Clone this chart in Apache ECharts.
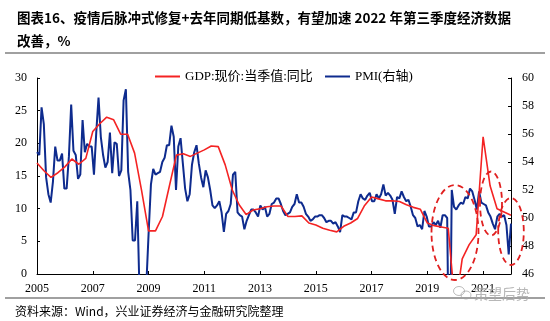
<!DOCTYPE html>
<html><head><meta charset="utf-8">
<script src="https://cdn.jsdelivr.net/npm/echarts@6/dist/echarts.min.js"></script>
<style>html,body{margin:0;padding:0;background:#fff;}#c{width:550px;height:321px;}</style>
</head><body><div id="c"></div>
<script>
// ---- data ----
const gdpName = 'GDP:现价:当季值:同比';
const pmiName = 'PMI(右轴)';
const startYear = 2005;
// quarterly nominal GDP YoY, 2005Q1 .. 2022Q1
const gdp2005 = [17.0, 15.8, 14.8, 15.5];
const gdp2006 = [16.4, 17.6, 16.8, 17.7];
const gdp2007 = [21.8, 23.0, 24.0, 23.6];
const gdp2008 = [21.4, 21.4, 18.5, 12.8];
const gdp2009 = [6.6, 6.6, 8.8, 13.5];
const gdp2010 = [18.2, 18.4, 18.0, 18.5];
const gdp2011 = [19.0, 19.6, 19.5, 16.7];
const gdp2012 = [12.9, 10.6, 9.1, 9.8];
const gdp2013 = [10.0, 10.3, 10.4, 10.4];
const gdp2014 = [8.8, 8.8, 8.9, 7.8];
const gdp2015 = [7.5, 7.0, 6.7, 6.45];
const gdp2016 = [7.3, 7.8, 8.5, 10.5];
const gdp2017 = [11.8, 11.5, 11.2, 11.2];
const gdp2018 = [11.1, 10.6, 10.2, 9.9];
const gdp2019 = [7.8, 7.4, 7.2, 7.0];
const gdp2020 = [-5.3, 2.3, 4.5, 6.0];
const gdp2021 = [21.0, 13.5, 10.0, 9.5];
const gdp2022 = [9.0];
// monthly manufacturing PMI, 2005-01 .. 2022-05
const pmi2005 = [54.7,54.5,57.9,56.7,52.9,51.7,51.1,52.6,55.1,54.1,54.1,54.6];
const pmi2006 = [52.1,52.1,54.4,58.1,54.8,54.5,52.8,53.1,57.0,54.7,55.3,55.1];
const pmi2007 = [55.1,53.1,56.1,58.6,55.8,54.5,53.6,54.0,56.1,53.2,55.4,55.3];
const pmi2008 = [53.0,53.4,58.4,59.2,53.3,52.0,48.4,48.4,51.2,44.6,38.8,41.2];
const pmi2009 = [45.3,49.0,52.4,53.5,53.1,53.2,53.3,54.0,54.3,55.2,55.2,56.6];
const pmi2010 = [55.8,52.0,55.1,55.7,53.9,52.1,51.2,51.7,53.8,54.7,55.2,53.9];
const pmi2011 = [52.9,52.2,53.4,52.9,52.0,50.9,50.7,50.9,51.2,50.4,49.0,50.3];
const pmi2012 = [50.5,51.0,53.1,53.3,50.4,50.2,50.1,49.2,49.8,50.2,50.6,50.6];
const pmi2013 = [50.4,50.1,50.9,50.6,50.8,50.1,50.3,51.0,51.1,51.4,51.4,51.0];
const pmi2014 = [50.5,50.2,50.3,50.4,50.8,51.0,51.7,51.1,51.1,50.8,50.3,50.1];
const pmi2015 = [49.8,49.9,50.1,50.1,50.2,50.2,50.0,49.7,49.8,49.8,49.6,49.7];
const pmi2016 = [49.4,49.0,50.2,50.1,50.1,50.0,49.9,50.4,50.4,51.2,51.7,51.4];
const pmi2017 = [51.3,51.6,51.8,51.2,51.2,51.7,51.4,51.7,52.4,51.6,51.8,51.6];
const pmi2018 = [51.3,50.3,51.5,51.4,51.9,51.5,51.2,51.3,50.8,50.2,50.0,49.4];
const pmi2019 = [49.5,49.2,50.5,50.1,49.4,49.4,49.7,49.5,49.8,49.3,50.2,50.2];
const pmi2020 = [50.0,35.7,52.0,50.8,50.6,50.9,51.1,51.0,51.5,51.4,52.1,51.9];
const pmi2021 = [51.3,50.6,51.9,51.1,51.0,50.9,50.4,50.1,49.6,49.2,50.1,50.3];
const pmi2022 = [50.1,50.2,49.5,47.4,49.6];

const gdp = [].concat(gdp2005,gdp2006,gdp2007,gdp2008,gdp2009,gdp2010,gdp2011,gdp2012,gdp2013,gdp2014,gdp2015,gdp2016,gdp2017,gdp2018,gdp2019,gdp2020,gdp2021,gdp2022);
const pmi = [].concat(pmi2005,pmi2006,pmi2007,pmi2008,pmi2009,pmi2010,pmi2011,pmi2012,pmi2013,pmi2014,pmi2015,pmi2016,pmi2017,pmi2018,pmi2019,pmi2020,pmi2021,pmi2022);
const quarters = gdp.map((_, i) => (startYear + Math.floor(i / 4)) + 'Q' + (i % 4 + 1));
const months = pmi.map((_, i) => (startYear + Math.floor(i / 12)) + '-' + String(i % 12 + 1).padStart(2, '0'));

const serif = '"Liberation Serif","Noto Sans CJK SC",serif';
const cjk = '"Noto Sans CJK SC",sans-serif';
const RED = '#F42323';
const BLUE = '#0E2B8E';

const chart = echarts.init(document.getElementById('c'), null, {renderer: 'canvas'});
chart.setOption({
  animation: false,
  backgroundColor: '#fff',
  title: {
    text: '图表16、疫情后脉冲式修复+去年同期低基数，有望加速 2022 年第三季度经济数据\n改善，%',
    left: 12, top: 1,
    textStyle: {fontFamily: cjk, fontSize: 13.5, fontWeight: 'bold', color: '#000', lineHeight: 23}
  },
  legend: [
    {left: 150, top: 65, data: [{name: gdpName, icon: 'rect'}], itemWidth: 25, itemHeight: 2, itemGap: 5,
     textStyle: {fontFamily: serif, fontSize: 13, color: '#000'}},
    {left: 320, top: 65, data: [{name: pmiName, icon: 'rect'}], itemWidth: 25, itemHeight: 2, itemGap: 5,
     textStyle: {fontFamily: serif, fontSize: 13, color: '#000'}}
  ],
  grid: {left: 37, right: 39, top: 78, bottom: 47, containLabel: false},
  xAxis: [
    {type: 'category', data: quarters, boundaryGap: false, gridIndex: 0,
     axisLine: {lineStyle: {color: '#000', width: 1}},
     axisTick: {inside: true, length: 3, interval: 7, lineStyle: {color: '#000'}},
     axisLabel: {interval: 7, margin: 9, color: '#000', fontFamily: serif, fontSize: 12,
                 formatter: v => v.slice(0, 4)},
     splitLine: {show: false}},
    {type: 'category', data: months, boundaryGap: false, gridIndex: 0, show: false}
  ],
  yAxis: [
    {type: 'value', min: 0, max: 30, interval: 5, position: 'left',
     axisLine: {show: true, lineStyle: {color: '#000', width: 1}},
     axisTick: {show: true, inside: true, length: 3, lineStyle: {color: '#000'}},
     axisLabel: {margin: 10, color: '#000', fontFamily: serif, fontSize: 12},
     splitLine: {show: false}},
    {type: 'value', min: 46, max: 60, interval: 2, position: 'right',
     axisLine: {show: true, lineStyle: {color: '#000', width: 1}},
     axisTick: {show: true, inside: true, length: 3, lineStyle: {color: '#000'}},
     axisLabel: {margin: 11, color: '#000', fontFamily: serif, fontSize: 12},
     splitLine: {show: false}}
  ],
  series: [
    {name: gdpName, type: 'line', data: gdp, xAxisIndex: 0, yAxisIndex: 0,
     symbol: 'none', clip: true, z: 3,
     lineStyle: {color: RED, width: 1.6}, itemStyle: {color: RED}},
    {name: pmiName, type: 'line', data: pmi, xAxisIndex: 1, yAxisIndex: 1,
     symbol: 'none', clip: true, z: 2,
     lineStyle: {color: BLUE, width: 2}, itemStyle: {color: BLUE}}
  ],
  graphic: [
    {type: 'line', shape: {x1: 5, y1: 53, x2: 545, y2: 53}, style: {stroke: '#808080', lineWidth: 1.5}},
    {type: 'line', shape: {x1: 5, y1: 298, x2: 545, y2: 298}, style: {stroke: '#808080', lineWidth: 1.5}},
    {type: 'text', style: {text: '资料来源：Wind，兴业证券经济与金融研究院整理', x: 15, y: 311,
      verticalAlign: 'middle', font: '12px "Noto Sans CJK SC"', fill: '#000'}},
    {type: 'ellipse', z: 100, shape: {cx: 455, cy: 232.5, rx: 23.5, ry: 47.5},
     style: {fill: 'none', stroke: '#E02020', lineWidth: 1.8, lineDash: [6, 4]}},
    {type: 'ellipse', z: 100, shape: {cx: 491, cy: 203.5, rx: 11, ry: 32},
     style: {fill: 'none', stroke: '#E02020', lineWidth: 1.8, lineDash: [6, 4]}},
    {type: 'ellipse', z: 100, shape: {cx: 511, cy: 231.5, rx: 12.8, ry: 33.5},
     style: {fill: 'none', stroke: '#E02020', lineWidth: 1.8, lineDash: [6, 4]}},
    // faint watermark
    {type: 'ellipse', z: 110, shape: {cx: 459, cy: 291, rx: 5.5, ry: 4.5},
     style: {fill: 'none', stroke: 'rgba(160,160,160,0.7)', lineWidth: 1}},
    {type: 'ellipse', z: 110, shape: {cx: 466, cy: 295, rx: 5, ry: 4},
     style: {fill: 'none', stroke: 'rgba(160,160,160,0.7)', lineWidth: 1}},
    {type: 'text', z: 110, style: {text: '策望后势', x: 474, y: 294, verticalAlign: 'middle',
      font: '14px "Noto Sans CJK SC"', fill: 'rgba(170,170,170,0.85)'}}
  ]
});
</script>
</body></html>
